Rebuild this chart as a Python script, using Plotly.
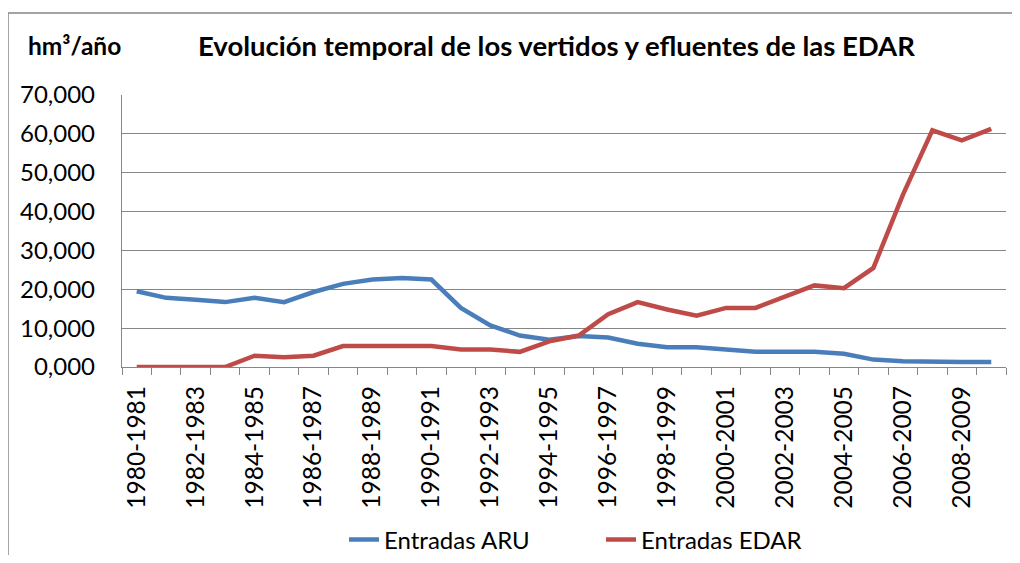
import plotly.graph_objects as go

campanas = [f"{y}-{y+1}" for y in range(1980, 2010)]
entradas_aru = [19.5, 17.8, 17.3, 16.7, 17.8, 16.7, 19.3, 21.4, 22.5, 22.9,
                22.5, 15.2, 10.7, 8.1, 7.0, 8.0, 7.6, 6.0, 5.1, 5.1,
                4.5, 3.9, 3.9, 3.9, 3.4, 1.9, 1.5, 1.3, 1.3, 1.3]
entradas_edar = [0.0, 0.0, 0.0, 0.0, 2.9, 2.5, 2.9, 5.4, 5.4, 5.4,
                 5.4, 4.5, 4.5, 3.9, 6.6, 8.1, 13.6, 16.7, 14.8, 13.2,
                 15.2, 15.2, 18.0, 21.0, 20.3, 25.5, 44.3, 60.9, 58.3, 61.3]
tick_text = [c if i % 2 == 0 else "" for i, c in enumerate(campanas)]

FONT = "Lato, Liberation Sans, Arial, sans-serif"
GRID = "#868686"

# page offset (browser body margin)
OFF = 8
W, H = 1012, 547
# plot area in page pixels
L, R, T, B = 122, 1006, 95, 367

def px(x):
    return (x - L) / (R - L)

def py(y):
    return (B - y) / (B - T)

fig = go.Figure()
fig.add_trace(go.Scatter(x=campanas, y=entradas_aru, mode="lines", name="Entradas ARU",
                         line=dict(color="#4A7EBB", width=4.5)))
fig.add_trace(go.Scatter(x=campanas, y=entradas_edar, mode="lines", name="Entradas EDAR",
                         line=dict(color="#BE4B48", width=4.5)))

fig.update_layout(
    width=W, height=H,
    margin=dict(l=L - OFF, r=W - (R - OFF), t=T - OFF, b=H - (B - OFF), autoexpand=False),
    paper_bgcolor="white", plot_bgcolor="white",
    separators=",.",
    font=dict(family=FONT, color="black"),
    showlegend=True,
    legend=dict(orientation="h", x=px(344), xanchor="left", y=py(540), yanchor="middle",
                font=dict(size=24, family=FONT), entrywidth=212, tracegroupgap=0),
    xaxis=dict(type="category", tickmode="array", tickvals=campanas, ticktext=tick_text,
               tickangle=-90, tickson="boundaries", ticks="outside", ticklen=7,
               tickcolor=GRID, tickwidth=1.3, showline=True, linecolor=GRID, linewidth=1.3,
               showgrid=False, tickfont=dict(size=24.5, family=FONT), ticklabelstandoff=8,
               range=[-0.5, 29.5], automargin=False),
    yaxis=dict(range=[0, 70], dtick=10, tickformat=".3f", showline=True, linecolor=GRID,
               linewidth=1.3, showgrid=True, gridcolor=GRID, gridwidth=1.3, ticks="",
               tickfont=dict(size=24, family=FONT), ticklabelstandoff=21, zeroline=False,
               automargin=False),
    annotations=[
        dict(text="<b>Evolución temporal de los vertidos y efluentes de las EDAR</b>",
             xref="paper", yref="paper", x=px(556), y=py(45), xanchor="center", yanchor="middle",
             showarrow=False, font=dict(size=27.5, family=FONT)),
        dict(text="<b>hm³/año</b>",
             xref="paper", yref="paper", x=px(26), y=py(45), xanchor="left", yanchor="middle",
             showarrow=False, font=dict(size=24.5, family=FONT)),
    ],
    shapes=[
        dict(type="line", xref="paper", yref="paper", x0=px(8), x1=px(1030), y0=py(13), y1=py(13),
             line=dict(color=GRID, width=1.5)),
        dict(type="line", xref="paper", yref="paper", x0=px(8), x1=px(8), y0=py(13), y1=py(570),
             line=dict(color=GRID, width=1.5)),
    ],
)

fig.write_html("out.html")
